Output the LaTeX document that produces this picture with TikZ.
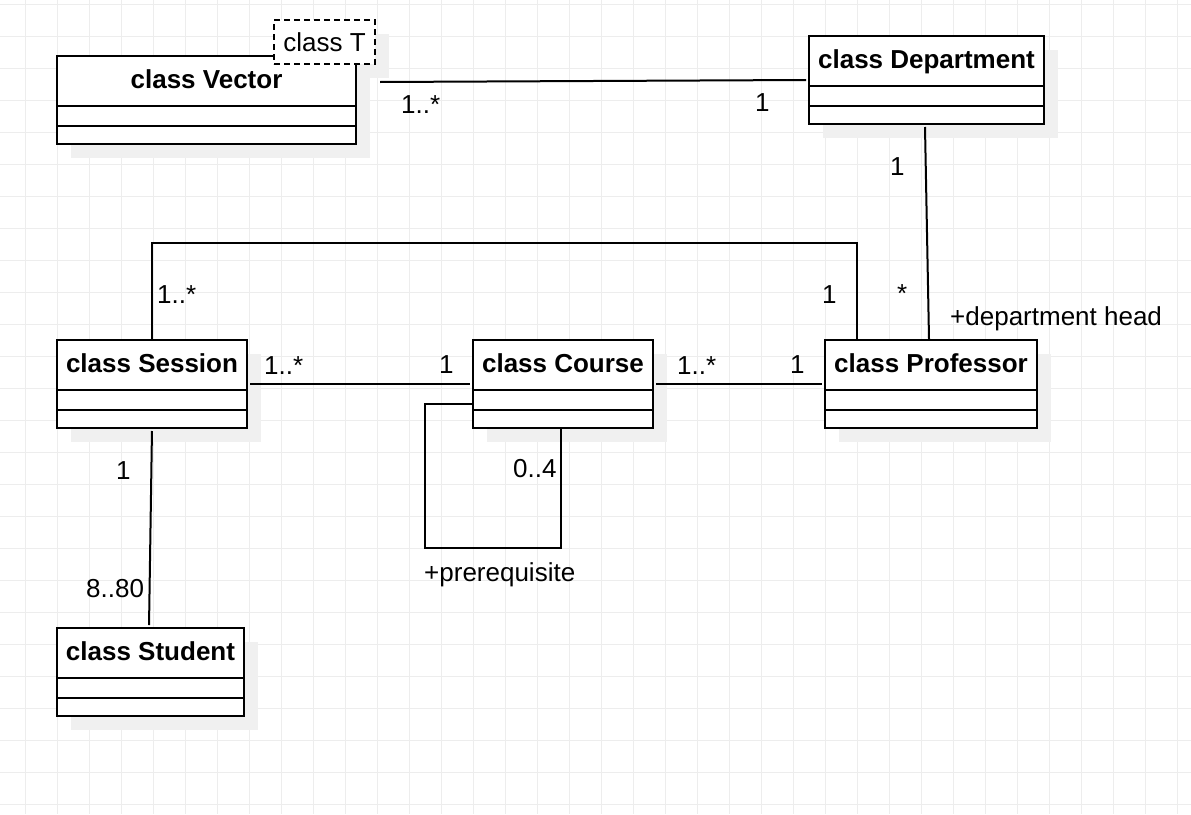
\documentclass[tikz,border=0pt]{standalone}
\usepackage{fontspec}
\setmainfont{Liberation Sans}
\usetikzlibrary{shadows}

\definecolor{gridgray}{HTML}{EDEDED}
\definecolor{shadowgray}{HTML}{F0F0F0}

\tikzset{
  gridline/.style={gridgray, line width=1pt},
  umlclass/.style={draw, line width=2pt, fill=white, minimum height=88pt, inner sep=0pt,
    general shadow={fill=shadowgray, shadow xshift=14pt, shadow yshift=-14pt}},
  tbox/.style={draw, dash pattern=on 6pt off 4pt, line width=2pt, fill=white, minimum width=101pt,
    minimum height=44pt, inner sep=0pt, font=\fontsize{26pt}{31pt}\selectfont},
  tshadow/.style={general shadow={fill=shadowgray, shadow xshift=14pt, shadow yshift=-14pt}},
  sep/.style={line width=2pt},
  ctitle/.style={anchor=base, inner sep=0pt, font=\fontsize{26pt}{31pt}\selectfont\bfseries},
  assoc/.style={line width=2pt},
  mult/.style={anchor=base west, inner sep=0pt, font=\fontsize{26pt}{31pt}\selectfont},
}

\begin{document}
\begin{tikzpicture}[x=1pt, y=-1pt]
  \useasboundingbox[fill=white] (0,0) rectangle (1191,814);
  % grid
  \foreach \gx in {0,...,36}
    \draw[gridline] ({25.7+32*\gx},0) -- ({25.7+32*\gx},814);
  \foreach \gy in {0,...,25}
    \draw[gridline] (0,{4+32*\gy}) -- (1191,{4+32*\gy});

  % classes
  \node[tbox, tshadow] (tmplsh) at (324.5,42) {};
  \node[umlclass, minimum width=299pt] (vec) at (206.5,100) {};
  \node[tbox] (tmpl) at (tmplsh) {class T};
  \node[umlclass, minimum width=235pt] (dept) at (926.5,80) {};
  \node[umlclass, minimum width=190pt] (sess) at (152,384) {};
  \node[umlclass, minimum width=180pt] (course) at (563,384) {};
  \node[umlclass, minimum width=212pt] (prof) at (931,384) {};
  \node[umlclass, minimum width=187pt] (stud) at (150.5,672) {};

  \foreach \c in {vec,dept,sess,course,prof,stud} {
    \draw[sep] ([yshift=-51pt]\c.north west) -- ([yshift=-51pt]\c.north east);
    \draw[sep] ([yshift=-71pt]\c.north west) -- ([yshift=-71pt]\c.north east);
  }

  \node[ctitle] (vecname) at ([yshift=-33pt]vec.north) {class Vector};
  \node[ctitle] (deptname) at ([yshift=-33pt]dept.north) {class Department};
  \node[ctitle] (sessname) at ([yshift=-33pt]sess.north) {class Session};
  \node[ctitle] (coursename) at ([yshift=-33pt]course.north) {class Course};
  \node[ctitle] (profname) at ([yshift=-33pt]prof.north) {class Professor};
  \node[ctitle] (studname) at ([yshift=-33pt]stud.north) {class Student};

  % associations
  \coordinate (vecend) at (380,82);
  \draw[assoc] (vecend) -- ([xshift=-2pt]dept.west);
  \draw[assoc] ([xshift=-1.5pt,yshift=-2pt]dept.south) -- ([xshift=-2pt]prof.north);
  \draw[assoc] (sess.north) -- ++(0,-96) -| ([xshift=-74pt]prof.north);
  \draw[assoc, shorten <=2pt, shorten >=2pt] (sess.east) -- (course.west);
  \draw[assoc, shorten <=2pt, shorten >=2pt] (course.east) -- (prof.west);
  \coordinate (loopc) at (425,548);
  \draw[assoc] ([yshift=-20pt]course.west) -| (loopc) -| ([xshift=-2pt]course.south);
  \draw[assoc, shorten <=2pt, shorten >=2pt] (sess.south) -- ([xshift=-1.5pt]stud.north);

  % multiplicities and roles
  \node[mult] (m1) at (401,113) {1..*};
  \node[mult] (m2) at (755,111) {1};
  \node[mult] (m3) at (890,175) {1};
  \node[mult] (m4) at (897,302) {*};
  \node[mult] (m5) at (950,325) {+department head};
  \node[mult] (m6) at (157,303) {1..*};
  \node[mult] (m7) at (822,303) {1};
  \node[mult] (m8) at (264,374) {1..*};
  \node[mult] (m9) at (439,373) {1};
  \node[mult] (m10) at (677,374) {1..*};
  \node[mult] (m11) at (790,373) {1};
  \node[mult] (m12) at (513,477) {0..4};
  \node[mult] (m13) at (424,581) {+prerequisite};
  \node[mult] (m14) at (116,479) {1};
  \node[mult] (m15) at (86,597) {8..80};
\end{tikzpicture}
\end{document}
